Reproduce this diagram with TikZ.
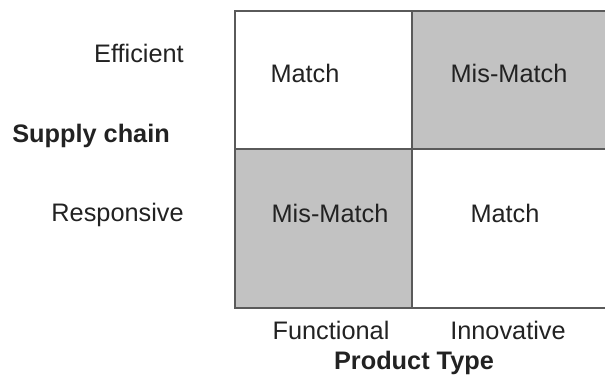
\documentclass[tikz,border=0pt]{standalone}
\usepackage{fontspec}
\setmainfont{Liberation Sans}
\definecolor{trait}{HTML}{5A5A5A}
\definecolor{case}{HTML}{C2C2C2}
\definecolor{texte}{HTML}{222222}
\begin{document}
\begin{tikzpicture}[x=0.025cm,y=-0.025cm,
    lbl/.style={text=texte,font=\fontsize{18}{20}\selectfont,inner sep=0pt},
    titre/.style={lbl,font=\fontsize{18}{20}\selectfont\bfseries}]

    \useasboundingbox (0,0) rectangle (605,389);

    % Cases grises
    \fill[case] (412,11) rectangle (605,149);
    \fill[case] (235,149) rectangle (412,308);

    % Grille
    \draw[trait,line width=1.4pt] (605,11) -- (235,11) -- (235,308) -- (605,308);
    \draw[trait,line width=1.4pt] (235,149) -- (605,149);
    \draw[trait,line width=1.4pt] (412,11) -- (412,308);

    % Contenu des cases
    \node[lbl,anchor=base] (m11) at (305,82) {Match};
    \node[lbl,anchor=base] (m12) at (509,82) {Mis-Match};
    \node[lbl,anchor=base] (m21) at (330,222) {Mis-Match};
    \node[lbl,anchor=base] (m22) at (505,222) {Match};

    % Lignes : supply chain
    \node[lbl,anchor=base east] (eff) at (184,62) {Efficient};
    \node[titre,anchor=base west] (sc) at (12,142) {Supply chain};
    \node[lbl,anchor=base east] (resp) at (184,221) {Responsive};

    % Colonnes : product type
    \node[lbl,anchor=base] (fonc) at (331,339) {Functional};
    \node[lbl,anchor=base] (innov) at (508,339) {Innovative};
    \node[titre,anchor=base] (pt) at (414,369) {Product Type};

\end{tikzpicture}
\end{document}
